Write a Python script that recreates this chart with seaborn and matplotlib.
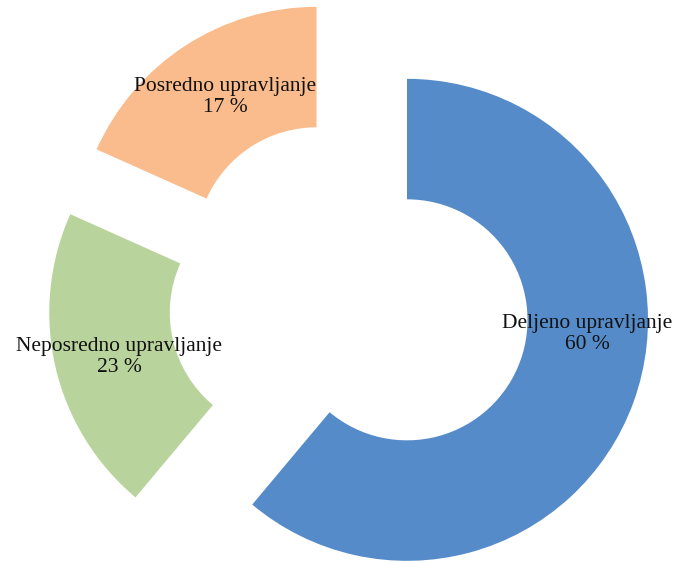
import matplotlib
matplotlib.use("Agg")
import matplotlib.pyplot as plt
import seaborn as sns

# Data (shares as drawn; label text as printed)
categories = ["Deljeno upravljanje", "Neposredno upravljanje", "Posredno upravljanje"]
shares = [61.1, 20.6, 18.3]
percent_labels = ["60 %", "23 %", "17 %"]
colors = ["#568BC9", "#B8D49C", "#FBBC8D"]

sns.set_theme(style="white")
plt.rcParams["font.family"] = ["Liberation Serif", "DejaVu Serif"]

W, H = 676, 562
R_PX = 241.0
CX, CY = 349.7, 299.0

fig = plt.figure(figsize=(W / 100, H / 100), dpi=100)
ax = fig.add_axes([0, 0, 1, 1])

explode = [0.253] * len(shares)
ax.pie(shares, colors=colors, startangle=90, counterclock=False,
       explode=explode, radius=1.0,
       wedgeprops=dict(width=0.5, linewidth=0, edgecolor="none"))

ax.set_aspect("auto")
ax.set_xlim(-CX / R_PX, (W - CX) / R_PX)
ax.set_ylim((CY - H) / R_PX, CY / R_PX)
ax.axis("off")

# label anchor positions (pixel space in the reference)
label_px = [(587, 334), (119, 357), (225, 97)]
for cat, pl, (px, py) in zip(categories, percent_labels, label_px):
    ax.text((px - CX) / R_PX, (CY - py) / R_PX, f"{cat}\n{pl}",
            ha="center", va="center", multialignment="center",
            fontsize=15.5, color="#111111", linespacing=1.2)

fig.savefig("out.png", dpi=100)
